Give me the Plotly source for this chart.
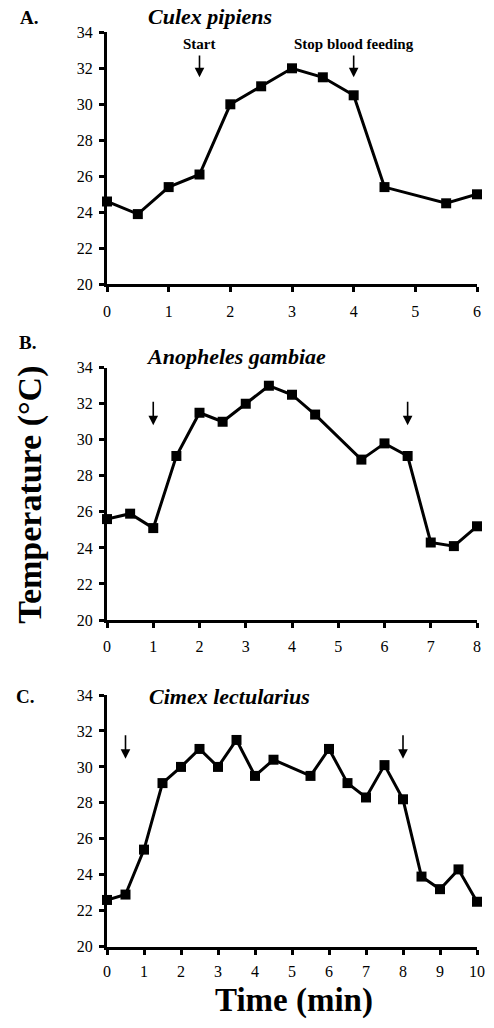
import plotly.graph_objects as go

# ---------------- data ----------------
time_a = [0, 0.5, 1, 1.5, 2, 2.5, 3, 3.5, 4, 4.5, 5.5, 6]
temp_a = [24.6, 23.9, 25.4, 26.1, 30.0, 31.0, 32.0, 31.5, 30.5, 25.4, 24.5, 25.0]

time_b = [0, 0.5, 1, 1.5, 2, 2.5, 3, 3.5, 4, 4.5, 5.5, 6, 6.5, 7, 7.5, 8]
temp_b = [25.6, 25.9, 25.1, 29.1, 31.5, 31.0, 32.0, 33.0, 32.5, 31.4, 28.9, 29.8, 29.1, 24.3, 24.1, 25.2]

time_c = [0, 0.5, 1, 1.5, 2, 2.5, 3, 3.5, 4, 4.5, 5.5, 6, 6.5, 7, 7.5, 8, 8.5, 9, 9.5, 10]
temp_c = [22.6, 22.9, 25.4, 29.1, 30.0, 31.0, 30.0, 31.5, 29.5, 30.4, 29.5, 31.0, 29.1, 28.3, 30.1, 28.2, 23.9, 23.2, 24.3, 22.5]

species = ["Culex pipiens", "Anopheles gambiae", "Cimex lectularius"]
panel_letters = ["A.", "B.", "C."]
x_max = [6, 8, 10]
start_times = [1.5, 1, 0.5]
stop_times = [4, 6.5, 8]
arrow_labels_a = ["Start", "Stop blood feeding"]
y_ticks = [20, 22, 24, 26, 28, 30, 32, 34]

series = [(time_a, temp_a), (time_b, temp_b), (time_c, temp_c)]

# ---------------- layout helpers ----------------
W, H = 494, 1028
ML, MR, MT, MB = 107, 9, 32, 1028 - 947
PW, PH = W - ML - MR, H - MT - MB


def px2x(px):
    return (px - ML) / PW


def py2y(py):
    return (H - MB - py) / PH


domains = [
    [py2y(284.3), min(1.0, py2y(32.3))],
    [py2y(620.0), py2y(367.7)],
    [max(0.0, py2y(946.7)), py2y(695.0)],
]
x_standoff = [5, 5, 3]

SERIF = "Liberation Serif, Times New Roman, serif"

fig = go.Figure()
for i, (t, v) in enumerate(series):
    k = "" if i == 0 else str(i + 1)
    fig.add_trace(go.Scatter(
        x=t, y=v, mode="lines+markers",
        xaxis="x" + k, yaxis="y" + k,
        line=dict(color="black", width=3),
        marker=dict(symbol="square", size=10, color="black"),
        cliponaxis=False, showlegend=False,
    ))

axis_common = dict(
    showline=True, linecolor="black", linewidth=3,
    ticks="outside", ticklen=5, tickwidth=2.5, tickcolor="black",
    showgrid=False, zeroline=False,
    tickfont=dict(family=SERIF, size=16, color="black"),
)

layout = dict(
    width=W, height=H,
    margin=dict(l=ML, r=MR, t=MT, b=MB),
    paper_bgcolor="white", plot_bgcolor="white",
    showlegend=False,
)
for i in range(3):
    k = "" if i == 0 else str(i + 1)
    layout["xaxis" + k] = dict(
        axis_common, domain=[0, 1], range=[0, x_max[i]], dtick=1,
        anchor="y" + k, ticklabelstandoff=x_standoff[i],
    )
    layout["yaxis" + k] = dict(
        axis_common, domain=domains[i], range=[20, 34],
        tickvals=y_ticks, anchor="x" + k, ticklabelstandoff=3,
    )
fig.update_layout(**layout)

annotations = []
# panel letters and species titles
letter_pos = [(27, 17.5), (26, 343), (23, 696)]
title_pos = [(212, 17), (239, 356), (232, 697)]
for i in range(3):
    annotations.append(dict(
        xref="paper", yref="paper", x=px2x(letter_pos[i][0]), y=py2y(letter_pos[i][1]),
        text="<b>%s</b>" % panel_letters[i], showarrow=False,
        font=dict(family=SERIF, size=19, color="black"),
        xanchor="center", yanchor="middle",
    ))
    annotations.append(dict(
        xref="paper", yref="paper", x=px2x(title_pos[i][0]), y=py2y(title_pos[i][1]),
        text="<b><i>%s</i></b>" % species[i], showarrow=False,
        font=dict(family=SERIF, size=22, color="black"),
        xanchor="center", yanchor="middle",
    ))

# arrows (tip y, tail y in data units per panel)
arrow_y = [(31.5, 32.8), (30.8, 32.2), (30.45, 31.85)]
for i in range(3):
    k = "" if i == 0 else str(i + 1)
    for xt in (start_times[i], stop_times[i]):
        annotations.append(dict(
            xref="x" + k, yref="y" + k, axref="x" + k, ayref="y" + k,
            x=xt, y=arrow_y[i][0], ax=xt, ay=arrow_y[i][1],
            text="", showarrow=True, arrowhead=2, arrowsize=1.2,
            arrowwidth=1.6, arrowcolor="black",
        ))

# labels above arrows in panel A
for xt, lab in zip([start_times[0], stop_times[0]], arrow_labels_a):
    annotations.append(dict(
        xref="x", yref="y", x=xt, y=33.35, text="<b>%s</b>" % lab,
        showarrow=False, font=dict(family=SERIF, size=15, color="black"),
        xanchor="center", yanchor="middle",
    ))

# axis titles
annotations.append(dict(
    xref="paper", yref="paper", x=px2x(28), y=py2y(495),
    text="<b>Temperature (°C)</b>", showarrow=False, textangle=-90,
    font=dict(family=SERIF, size=34, color="black"),
    xanchor="center", yanchor="middle",
))
annotations.append(dict(
    xref="paper", yref="paper", x=px2x(298), y=py2y(1001),
    text="<b>Time (min)</b>", showarrow=False,
    font=dict(family=SERIF, size=33, color="black"),
    xanchor="center", yanchor="middle",
))

fig.update_layout(annotations=annotations)
fig.write_html("out.html", config={"displayModeBar": False},
               post_script="document.body.style.margin='0px';")
